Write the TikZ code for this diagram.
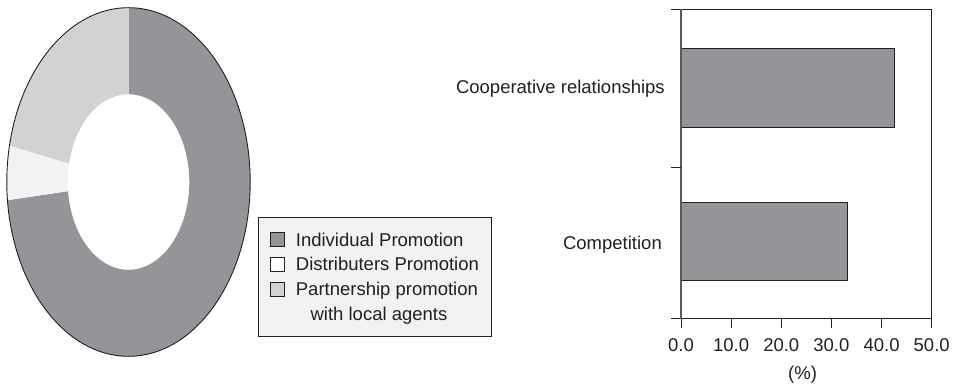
\documentclass[tikz,border=0pt]{standalone}
\usepackage{fontspec}
\setmainfont{Liberation Sans}
\usetikzlibrary{calc}
\definecolor{darkslice}{HTML}{949598}
\definecolor{lightslice}{HTML}{D1D2D4}
\definecolor{whiteslice}{HTML}{F1F2F3}
\definecolor{legendfill}{HTML}{F1F2F4}
\definecolor{inkc}{HTML}{231F20}
\definecolor{axisgray}{HTML}{5A5A5C}
\begin{document}
\begin{tikzpicture}[x=1pt,y=1pt,
  lbl/.style={font=\fontsize{18.5}{22}\selectfont, text=inkc, inner sep=0pt},
  swatch/.style={draw=inkc, line width=0.8pt},
  barbox/.style={fill=darkslice, draw=inkc, line width=1pt},
  frame/.style={draw=inkc, line width=1pt},
  axisline/.style={draw=axisgray, line width=1.2pt}]
\useasboundingbox (0,0) rectangle (954,386);
% ---------- donut ----------
\coordinate (c) at (128.5,204);
\def\rxo{121.7}\def\ryo{174.3}\def\rxi{60.8}\def\ryi{87.8}
% dark slice 90 -> -174 (clockwise)
\fill[darkslice] ($(c)+(90:\rxo pt and \ryo pt)$) arc[start angle=90,end angle=-174,x radius=\rxo,y radius=\ryo]
  -- ($(c)+(-174:\rxi pt and \ryi pt)$) arc[start angle=-174,end angle=90,x radius=\rxi,y radius=\ryi] -- cycle;
% light slice 90 -> 168
\fill[lightslice] ($(c)+(90:\rxo pt and \ryo pt)$) arc[start angle=90,end angle=168,x radius=\rxo,y radius=\ryo]
  -- ($(c)+(168:\rxi pt and \ryi pt)$) arc[start angle=168,end angle=90,x radius=\rxi,y radius=\ryi] -- cycle;
% white slice 168 -> 186
\fill[whiteslice] ($(c)+(168:\rxo pt and \ryo pt)$) arc[start angle=168,end angle=186,x radius=\rxo,y radius=\ryo]
  -- ($(c)+(186:\rxi pt and \ryi pt)$) arc[start angle=186,end angle=168,x radius=\rxi,y radius=\ryi] -- cycle;
\draw[inkc, line width=0.9pt] (c) ellipse[x radius=\rxo, y radius=\ryo];
% ---------- legend ----------
\node[draw=inkc, line width=1.1pt, fill=legendfill, minimum width=232.4pt, minimum height=118.4pt, inner sep=0pt, anchor=south west] (legend) at (258.3,49.3) {};
\node[swatch, fill=darkslice, minimum size=13.4pt, inner sep=0pt, anchor=south west] (sw1) at (270.3,139.3) {};
\node[swatch, fill=white, minimum size=13.4pt, inner sep=0pt, anchor=south west] (sw2) at (270.3,114.3) {};
\node[swatch, fill=lightslice, minimum size=13.4pt, inner sep=0pt, anchor=south west] (sw3) at (270.3,89.3) {};
\node[lbl, anchor=base west] (l1) at (295.7,139.3) {Individual Promotion};
\node[lbl, anchor=base west] (l2) at (295.7,115) {Distributers Promotion};
\node[lbl, anchor=base west] (l3) at (295.7,90) {Partnership promotion};
\node[lbl, anchor=base] (l4) at (379,65.7) {with local agents};
% ---------- bar chart ----------
\coordinate (o) at (681,67);
\coordinate (tl) at (681,376.7);
\coordinate (br) at (931.7,67);
\coordinate (tr) at (931.7,376.7);
\fill[barbox] (681,258.7) rectangle (894.3,337.7);
\fill[barbox] (681,105.7) rectangle (847,183.7);
\draw[frame] (671,376.7) -- (tr) -- (br);
\draw[frame] (671,67) -- (br);
\draw[axisline] (tl) -- (o);
\draw[frame] (671,218.3) -- (681,218.3);
\foreach \i/\v in {0/0.0,1/10.0,2/20.0,3/30.0,4/40.0,5/50.0}{
  \draw[frame] ($(o)+(\i*50.14,0)$) -- ++(0,-9);
  \node[lbl, anchor=base] (t\i) at ($(o)+(\i*50.14,-32.7)$) {\v};
}
\node[lbl, anchor=base] (pct) at (802.6,7) {(\%)};
\node[lbl, anchor=base east] (coop) at (665,292.7) {Cooperative relationships};
\node[lbl, anchor=base east] (comp) at (662,136) {Competition};
\end{tikzpicture}
\end{document}
